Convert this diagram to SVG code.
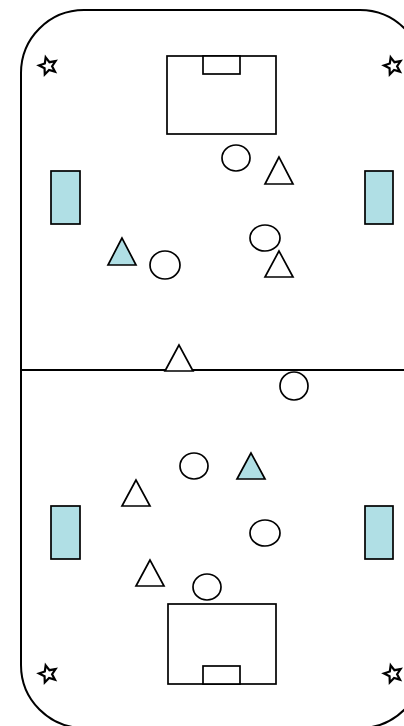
<svg xmlns="http://www.w3.org/2000/svg" width="404" height="726" viewBox="0 0 404 726">
<defs>
<style>
.ln{fill:none;stroke:#000;stroke-width:2}
.w{fill:#fff;stroke:#000;stroke-width:1.7}
.b{fill:#B0DFE5;stroke:#000;stroke-width:1.7}
.st{fill:#fff;stroke:#000;stroke-width:2.2;stroke-linejoin:miter}
</style>
<polygon id="star" points="0,-9 2.4,-3.3 8.6,-2.8 3.9,1.3 5.3,7.3 0,4.1 -5.3,7.3 -3.9,1.3 -8.6,-2.8 -2.4,-3.3"/>
</defs>
<rect width="404" height="726" fill="#fff"/>
<g id="field">
<rect class="ln" x="21" y="10" width="402" height="718" rx="63" ry="63"/>
<line class="ln" x1="21" y1="370" x2="404" y2="370"/>
</g>
<g id="goal-top">
<rect class="w" x="167" y="56" width="109" height="78"/>
<rect class="w" x="203" y="56" width="37" height="18"/>
</g>
<g id="goal-bottom">
<rect class="w" x="168" y="604" width="108" height="80"/>
<rect class="w" x="203" y="666" width="37" height="18"/>
</g>
<g id="stars">
<use href="#star" class="st" transform="translate(48,66) rotate(-15)"/>
<use href="#star" class="st" transform="translate(393,66) rotate(-15)"/>
<use href="#star" class="st" transform="translate(48,674) rotate(-15)"/>
<use href="#star" class="st" transform="translate(393,674) rotate(-15)"/>
</g>
<g id="blocks">
<rect class="b" x="51" y="171" width="29" height="53"/>
<rect class="b" x="365" y="171" width="28" height="53"/>
<rect class="b" x="51" y="506" width="29" height="53"/>
<rect class="b" x="365" y="506" width="28" height="53"/>
</g>
<g id="circles">
<ellipse class="w" cx="236" cy="158" rx="14" ry="13"/>
<ellipse class="w" cx="265" cy="238" rx="15" ry="13"/>
<ellipse class="w" cx="165" cy="265" rx="15" ry="14"/>
<ellipse class="w" cx="294" cy="386" rx="14" ry="14"/>
<ellipse class="w" cx="194" cy="466" rx="14" ry="13"/>
<ellipse class="w" cx="265" cy="533" rx="15" ry="13"/>
<ellipse class="w" cx="207" cy="587" rx="14" ry="13"/>
</g>
<g id="triangles">
<polygon class="w" points="279,157 265,184 293,184"/>
<polygon class="b" points="122,238 108,265 136,265"/>
<polygon class="w" points="279,251 265,277 293,277"/>
<polygon class="w" points="179,345 165,371 193,371"/>
<polygon class="b" points="251,453 237,479 265,479"/>
<polygon class="w" points="136,480 122,506 150,506"/>
<polygon class="w" points="150,560 136,586 164,586"/>
</g>
</svg>
